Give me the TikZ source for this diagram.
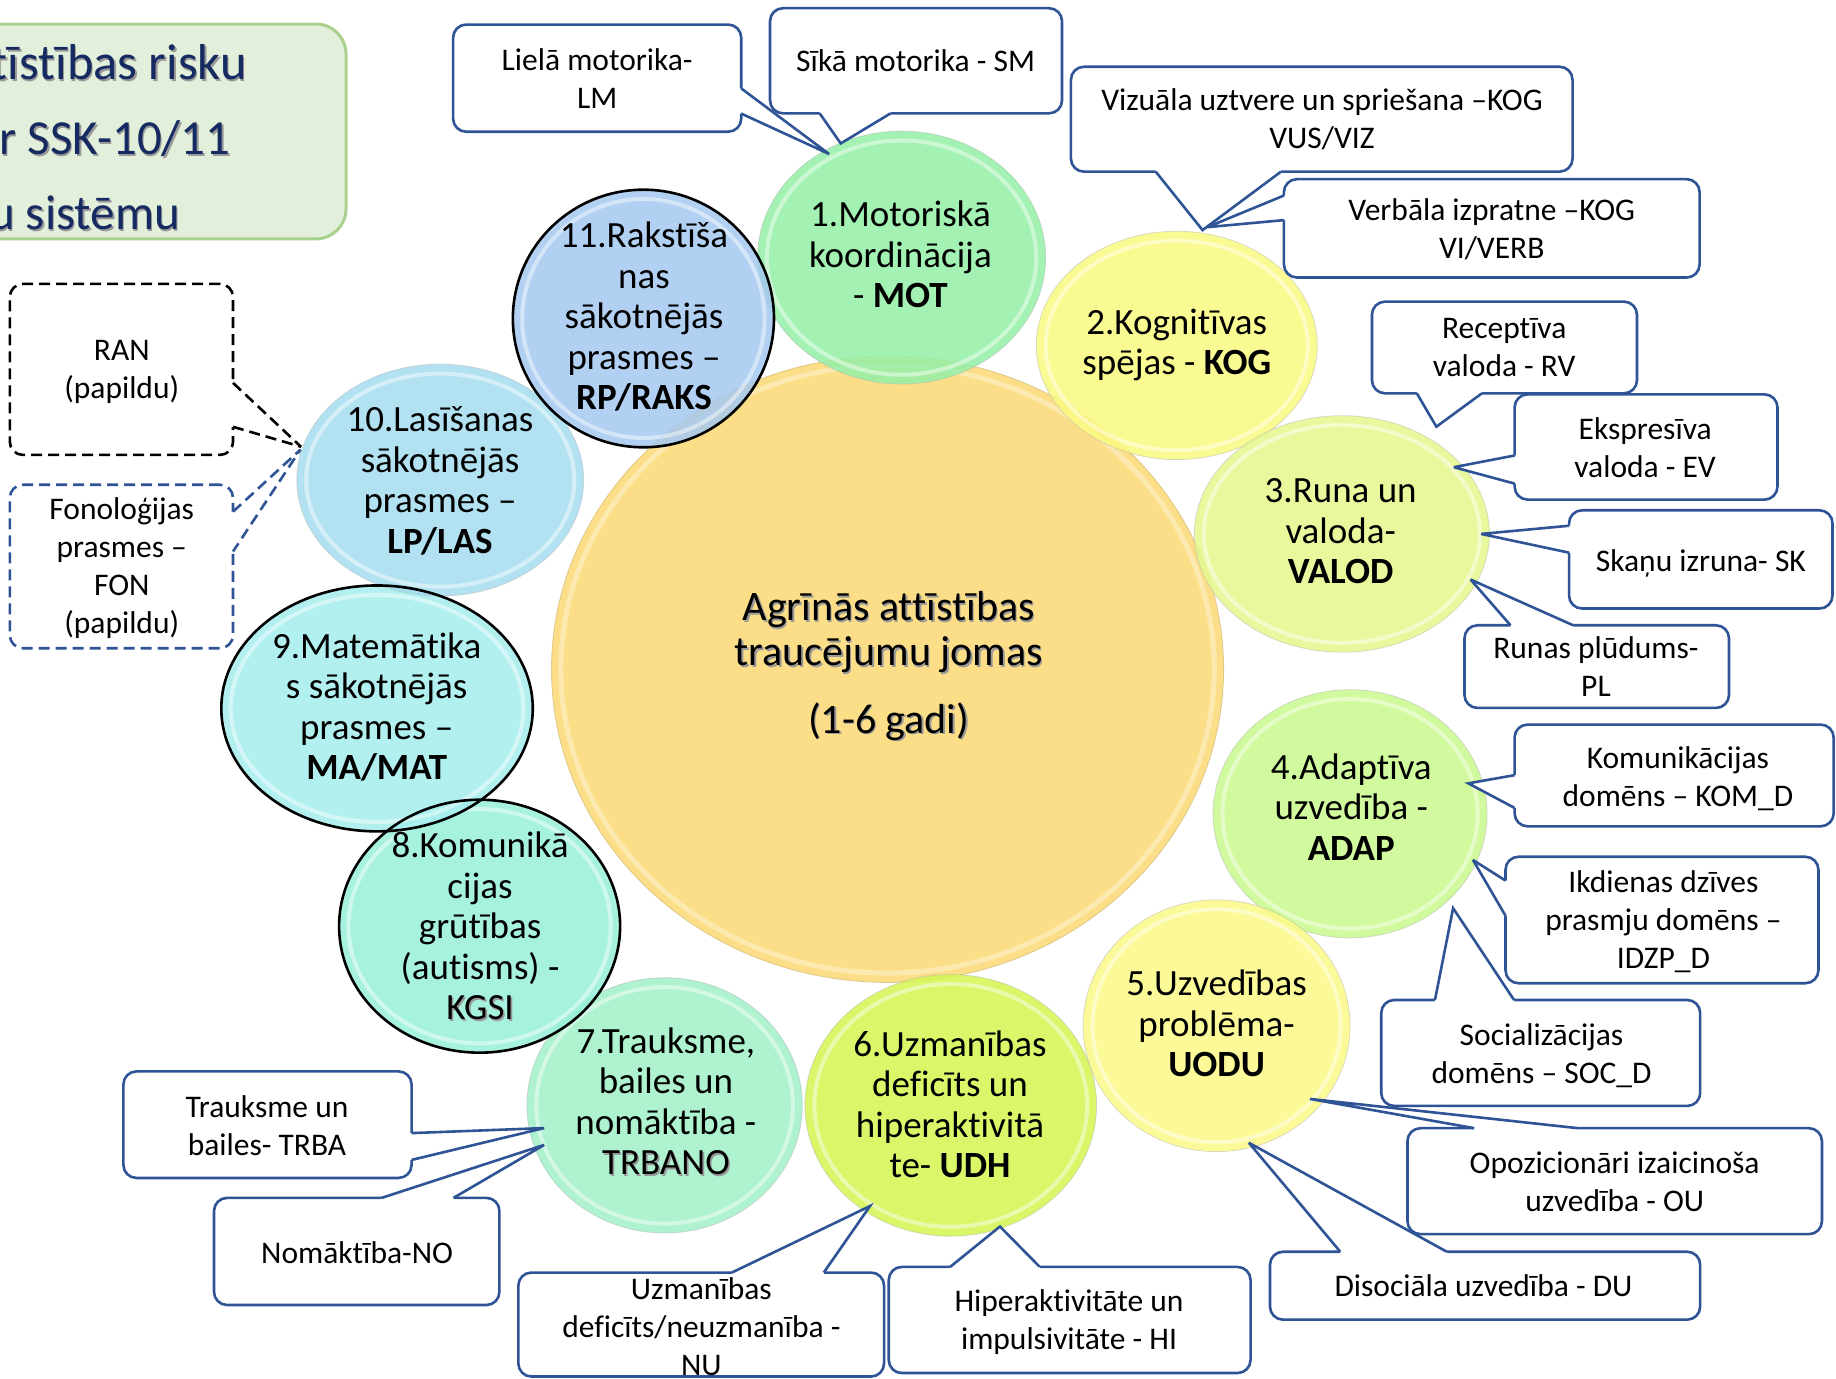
\documentclass[tikz,border=0pt]{standalone}
\usepackage{fontspec}
\setmainfont{Carlito}[Ligatures=NoCommon]
\usetikzlibrary{shapes.geometric}
\definecolor{navy}{RGB}{47,84,150}
\definecolor{titlec}{RGB}{22,42,98}
\definecolor{tfill}{RGB}{226,239,218}
\definecolor{tdraw}{RGB}{169,209,142}
\definecolor{col0}{RGB}{251,222,135}
\definecolor{col1}{RGB}{148,240,168}
\definecolor{col2}{RGB}{250,250,128}
\definecolor{col3}{RGB}{228,248,140}
\definecolor{col4}{RGB}{200,250,140}
\definecolor{col5}{RGB}{252,250,135}
\definecolor{col6}{RGB}{212,246,80}
\definecolor{col7}{RGB}{160,240,200}
\definecolor{col8}{RGB}{152,240,218}
\definecolor{col9}{RGB}{165,238,238}
\definecolor{col10}{RGB}{165,222,240}
\definecolor{col11}{RGB}{165,200,240}
\newcommand\shd[1]{\leavevmode\rlap{\kern1.6pt\raisebox{-1.6pt}{\textcolor{black!40}{#1}}}#1}
\newcommand\bubble[6]{%
  \node[bub={#4}{#5}, fill=#6] (#1) at (#2,#3) {};
  \draw[white, opacity=.45, line width=4pt] (#1.center) ellipse [x radius=#4-8, y radius=#5-8];
}
% #1 style, #2 base1 (x,y), #3 tip name, #4 base2 (x,y), #5 inward shift (dx,dy)
\newcommand\calltail[5]{%
  \fill[white] ([shift={(#5)}]#2) -- (#2) -- (#3) -- (#4) -- ([shift={(#5)}]#4) -- cycle;
  \draw[tailline,#1] (#2) -- (#3) -- (#4);
}
\begin{document}
\begin{tikzpicture}[x=1.17092pt,y=-1.17092pt,
  bub/.style 2 args={ellipse, inner sep=0pt, minimum width=2*#1*1.17092pt, minimum height=2*#2*1.17092pt, fill opacity=.85, draw=black!30, draw opacity=.45, line width=.8pt},
  cbox/.style 2 args={draw=navy, line width=2.6pt, fill=white, rounded corners=13pt, minimum width=#1*1.17092pt, minimum height=#2*1.17092pt, inner sep=0pt},
  tailline/.style={draw=navy, line width=2.6pt, miter limit=4},
  dashy/.style={dash pattern=on 11pt off 6pt},
  ctext/.style={anchor=base, align=center, inner sep=0pt, font=\fontsize{31.5}{38}\selectfont},
  btext/.style={anchor=base, align=center, inner sep=0pt, font=\fontsize{37}{40.5}\selectfont},
  ttext/.style={anchor=base east, inner sep=0pt, font=\fontsize{49}{58}\selectfont, text=titlec},
]
\path[use as bounding box, fill=white] (0,0) rectangle (1568,1177.7);

% title box
\node[draw=tdraw, fill=tfill, line width=3pt, rounded corners=30pt, minimum width=335.5*1.17092pt, minimum height=183.5*1.17092pt, inner sep=0pt] (title) at (127.75,112.25) {};
\node[ttext, font=\fontsize{50.5}{58}\selectfont] (ti1) at (211,68) {\shd{tīstības risku}};
\node[ttext] (ti2) at (197,132) {\shd{r SSK-10/11}};
\node[ttext] (ti3) at (154,196) {\shd{u sistēmu}};

% central circle
\node[bub={287}{267.5}, fill=col0, fill opacity=1, draw=col0!80!black, draw opacity=.6] (c0) at (758,571.5) {};
\draw[white, opacity=.35, line width=5pt] (c0.center) ellipse [x radius=279, y radius=259.5];

% domain circles
\bubble{c1}{770}{220}{123}{108}{col1}
\bubble{c2}{1005}{295}{120}{97.5}{col2}
\bubble{c3}{1146}{456}{126}{101}{col3}
\bubble{c4}{1153}{695}{117}{106}{col4}
\bubble{c5}{1039}{876}{114}{107.5}{col5}
\bubble{c6}{812}{944}{124.5}{111.7}{col6}
\bubble{c7}{567.6}{944}{117.6}{109}{col7}
\bubble{c8}{409.6}{791}{120}{108}{col8}
\bubble{c9}{322}{605}{133}{105}{col9}
\bubble{c10}{376}{410}{122.5}{99}{col10}
\bubble{c11}{549.5}{272}{111.5}{110}{col11}
\draw[line width=2.6pt] (c11.center) ellipse [x radius=111.5, y radius=110];
\draw[line width=2.6pt] (c9.center) ellipse [x radius=133, y radius=105];
\draw[line width=2.6pt] (c8.center) ellipse [x radius=120, y radius=108];

% texts in circles (anchor = baseline of the last line)
\node[anchor=base, align=center, inner sep=0pt, font=\fontsize{42}{45.3}\selectfont] (t0) at (759,626) {\shd{Agrīnās attīstības}\\\shd{traucējumu jomas}\\[21.8pt]\shd{(1-6 gadi)}};
\node[btext] (t1) at (769,263) {1.Motoriskā\\koordinācija\\- \textbf{MOT}};
\node[btext] (t2) at (1005,320) {2.Kognitīvas\\spējas - \textbf{KOG}};
\node[btext] (t3) at (1145,498.4) {3.Runa un\\valoda-\\\textbf{VALOD}};
\node[btext] (t4) at (1154,734.5) {4.Adaptīva\\uzvedība -\\\textbf{ADAP}};
\node[btext] (t5) at (1039,919.5) {5.Uzvedības\\problēma-\\\textbf{UODU}};
\node[btext] (t6) at (811.3,1006) {6.Uzmanības\\deficīts un\\hiperaktivitā\\te- \textbf{UDH}};
\node[btext] (t7) at (568.7,1003.4) {7.Trauksme,\\bailes un\\nomāktība -\\\shd{TRBANO}};
\node[btext] (t8) at (410,871) {8.Komunikā\\cijas\\grūtības\\(autisms) -\\\shd{KGSI}};
\node[btext] (t9) at (321.7,666) {9.Matemātika\\s sākotnējās\\prasmes –\\\textbf{MA/MAT}};
\node[btext] (t10) at (375.8,472.5) {10.Lasīšanas\\sākotnējās\\prasmes –\\\textbf{LP/LAS}};
\node[btext] (t11) at (550,350) {11.Rakstīša\\nas\\sākotnējās\\prasmes –\\\textbf{RP/RAKS}};

% tail tips
\coordinate (pLM) at (708,131.5);
\coordinate (pSM) at (718,122.5);
\coordinate (pVIZ) at (1027,196.5);
\coordinate (pVERB) at (1031,194);
\coordinate (pRV) at (1226.7,364.4);
\coordinate (pEV) at (1241.6,399);
\coordinate (pSK) at (1265,456);
\coordinate (pPL) at (1256,495);
\coordinate (pKOM) at (1254,669);
\coordinate (pIDZP) at (1258,734.5);
\coordinate (pSOC) at (1241,775.6);
\coordinate (pOU) at (1118.7,938.5);
\coordinate (pDU) at (1066.6,976);
\coordinate (pHI) at (854,1047.5);
\coordinate (pNU) at (743,1030);
\coordinate (pNO) at (464.7,977.8);
\coordinate (pTRBA) at (464.7,963.4);
\coordinate (pRAN) at (257,381.5);
\coordinate (pFON) at (256.6,384);

% callouts
\node[cbox={246}{91.5}] (bLM) at (510,66.75) {};
\calltail{}{633,75.5}{pLM}{633,97}{-2,0}
\node[ctext] (xLM) at (510,92.6) {Lielā motorika-\\LM};

\node[cbox={249.4}{89.8}] (bSM) at (782.3,51.9) {};
\calltail{}{700,96.8}{pSM}{760.6,96.8}{0,-2}
\node[ctext] (xSM) at (782,61) {Sīkā motorika - SM};

\node[cbox={428.4}{89.6}] (bVIZ) at (1128.8,101.8) {};
\calltail{}{987,146.6}{pVIZ}{1094,146.6}{0,-2}
\node[ctext] (xVIZ) at (1129,127) {Vizuāla uztvere un spriešana –KOG\\VUS/VIZ};

\node[cbox={355}{84}] (bVERB) at (1274,195) {};
\calltail{}{1096.5,167}{pVERB}{1096.5,188}{2,0}
\node[ctext] (xVERB) at (1274,220.6) {Verbāla izpratne –KOG\\VI/VERB};

\node[cbox={226.3}{78.3}] (bRV) at (1284.85,296.75) {};
\calltail{}{1210,335.9}{pRV}{1265.6,335.9}{0,-2}
\node[ctext] (xRV) at (1284.6,321.7) {Receptīva\\valoda - RV};

\node[cbox={224.5}{89.9}] (bEV) at (1405.75,381.75) {};
\calltail{}{1293.5,389}{pEV}{1293.5,413}{2,0}
\node[ctext] (xEV) at (1405,408) {Ekspresīva\\valoda - EV};

\node[cbox={225}{83.9}] (bSK) at (1452.5,477.75) {};
\calltail{}{1340,449}{pSK}{1340,472}{2,0}
\node[ctext] (xSK) at (1452.6,487.7) {Skaņu izruna- SK};

\node[cbox={225.9}{70.6}] (bPL) at (1363.65,569.3) {};
\calltail{}{1290,534}{pPL}{1343.5,534}{0,2}
\node[ctext] (xPL) at (1363,595) {Runas plūdums-\\PL};

\node[cbox={272.5}{86.9}] (bKOM) at (1429.75,662.25) {};
\calltail{}{1293.5,662}{pKOM}{1293.5,690}{2,0}
\node[ctext] (xKOM) at (1433,689) {Komunikācijas\\domēns – KOM\_D};

\node[cbox={267.3}{108}] (bIDZP) at (1419.35,785.7) {};
\calltail{}{1285.7,752}{pIDZP}{1285.7,782}{2,0}
\node[ctext] (xIDZP) at (1420.6,826.8) {Ikdienas dzīves\\prasmju domēns –\\IDZP\_D};

\node[cbox={272.4}{90.5}] (bSOC) at (1315.8,899.25) {};
\calltail{}{1225.5,854}{pSOC}{1293,854}{0,2}
\node[ctext] (xSOC) at (1316.5,925) {Socializācijas\\domēns – SOC\_D};

\node[cbox={367.4}{58}] (bDU) at (1268.3,1098) {};
\calltail{}{1144.6,1069}{pDU}{1235.6,1069}{0,2}
\node[ctext] (xDU) at (1267,1107) {Disociāla uzvedība - DU};

\node[cbox={354}{90.5}] (bOU) at (1379,1008.75) {};
\calltail{}{1259,963.5}{pOU}{1347.6,963.5}{0,2}
\node[ctext] (xOU) at (1379,1034.7) {Opozicionāri izaicinoša\\uzvedība - OU};

\node[cbox={309}{90.6}] (bHI) at (913.5,1127.3) {};
\calltail{}{811.4,1082}{pHI}{888,1082}{0,2}
\node[ctext] (xHI) at (913,1152.8) {Hiperaktivitāte un\\impulsivitāte - HI};

\node[cbox={312.3}{88.8}] (bNU) at (598.85,1131.2) {};
\calltail{}{625,1086.8}{pNU}{703.5,1086.8}{0,2}
\node[ctext] (xNU) at (599,1174.3) {Uzmanības\\deficīts/neuzmanība -\\NU};

\node[cbox={243.7}{91.5}] (bNO) at (304.65,1068.75) {};
\calltail{}{326,1023}{pNO}{387.3,1023}{0,2}
\node[ctext] (xNO) at (305,1078.7) {Nomāktība-NO};

\node[cbox={246.1}{91}] (bTRBA) at (228.45,960.5) {};
\calltail{}{351.5,967.7}{pTRBA}{351.5,990.6}{-2,0}
\node[ctext] (xTRBA) at (228,986.4) {Trauksme un\\bailes- TRBA};

\node[cbox={190.6}{146}, draw=black, dashy] (bRAN) at (103.7,315.5) {};
\calltail{draw=black, dashy}{199,327}{pRAN}{199,364.5}{-2,0}
\node[ctext] (xRAN) at (104,340) {RAN\\(papildu)};

\node[cbox={190.6}{139.6}, dashy] (bFON) at (103.7,483.8) {};
\calltail{dashy}{199,437}{pFON}{199,471}{-2,0}
\node[ctext] (xFON) at (104,540.8) {Fonoloģijas\\prasmes –\\FON\\(papildu)};
\end{tikzpicture}
\end{document}
